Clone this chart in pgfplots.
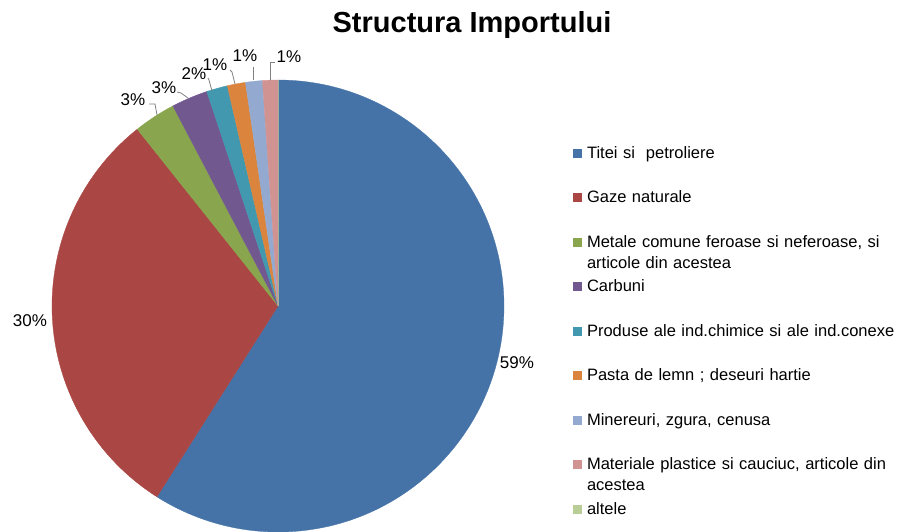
\documentclass[border=0pt]{standalone}
\usepackage{fontspec}
\setmainfont{Liberation Sans}
\usepackage{pgfplots}
\usepackage{pgfplotstable}
\pgfplotsset{compat=1.18}
\definecolor{cTitei}{HTML}{4572A7}
\definecolor{cGaze}{HTML}{AA4643}
\definecolor{cMetale}{HTML}{89A54E}
\definecolor{cCarbuni}{HTML}{71588F}
\definecolor{cProduse}{HTML}{4198AF}
\definecolor{cPasta}{HTML}{DB843D}
\definecolor{cMinereuri}{HTML}{93A9CF}
\definecolor{cMateriale}{HTML}{D19392}
\definecolor{cAltele}{HTML}{B9CD96}
\pgfplotstableread{
value color
59.0 cTitei
30.3 cGaze
3.0 cMetale
2.6 cCarbuni
1.5 cProduse
1.3 cPasta
1.2 cMinereuri
1.1 cMateriale
0.0 cAltele
}\piedata
\begin{document}
\begin{tikzpicture}
\begin{axis}[at={(0,0)}, anchor=south west, x=1pt, y=1pt,
  xmin=0, xmax=900, ymin=0, ymax=531, hide axis, clip=false,
  legend image code/.code={\fill[#1, draw=none] (0pt,0.5pt) rectangle (9pt,9.5pt);},
  legend style={at={(0.6367,0.7250)}, anchor=north west, draw=none, fill=none,
    inner sep=0pt, outer sep=0pt, row sep=0pt, column sep=5pt,
    font=\fontsize{16.5}{21}\selectfont,
    nodes={anchor=base west, text width=310pt, align=left, text height=12pt, text depth=32.5pt, inner sep=0pt}}]
\def\angA{90}
\pgfplotsforeachungrouped \i in {0,...,8}{%
  \pgfplotstablegetelem{\i}{value}\of\piedata \let\sliceval\pgfplotsretval
  \pgfplotstablegetelem{\i}{color}\of\piedata \let\slicecol\pgfplotsretval
  \pgfmathsetmacro\angB{\angA-3.6*\sliceval}%
  \edef\tmp{\noexpand\fill[\slicecol, draw=\slicecol, line width=0.3pt] (axis cs:278,225) -- (axis cs:{278+226*cos(\angA)},{225+226*sin(\angA)}) arc[start angle=\angA, end angle=\angB, radius=226pt] -- cycle;}%
  \tmp
  \let\angA\angB
}
\addlegendimage{fill=cTitei}\addlegendentry{Titei si\ \ petroliere}
\addlegendimage{fill=cGaze}\addlegendentry{Gaze naturale}
\addlegendimage{fill=cMetale}\addlegendentry{Metale comune feroase si neferoase, si\\articole din acestea}
\addlegendimage{fill=cCarbuni}\addlegendentry{Carbuni}
\addlegendimage{fill=cProduse}\addlegendentry{Produse ale ind.chimice si ale ind.conexe}
\addlegendimage{fill=cPasta}\addlegendentry{Pasta de lemn ; deseuri hartie}
\addlegendimage{fill=cMinereuri}\addlegendentry{Minereuri, zgura, cenusa}
\addlegendimage{fill=cMateriale}\addlegendentry{Materiale plastice si cauciuc, articole din\\acestea}
\addlegendimage{fill=cAltele}\addlegendentry{altele}
% title
\node[font=\fontsize{29}{34}\selectfont\bfseries, anchor=base] at (axis cs:472,498) {Structura Importului};
% leader lines
\draw[gray, line width=0.8pt] (axis cs:149,427) -- (axis cs:155,427) -- (axis cs:157,416);
\draw[gray, line width=0.8pt] (axis cs:177,439) -- (axis cs:181,438) -- (axis cs:188,433);
\draw[gray, line width=0.8pt] (axis cs:208,453) -- (axis cs:209,451) -- (axis cs:212,440);
\draw[gray, line width=0.8pt] (axis cs:230,461) -- (axis cs:232,459) -- (axis cs:235,447);
\draw[gray, line width=0.8pt] (axis cs:253,464) -- (axis cs:253,451);
\draw[gray, line width=0.8pt] (axis cs:275,469) -- (axis cs:270,469) -- (axis cs:270,451);
% data labels
\begin{scope}[every node/.style={font=\fontsize{17}{20}\selectfont, inner sep=0pt}]
\node at (axis cs:517,168) {59\%};
\node at (axis cs:30,210) {30\%};
\node at (axis cs:133,431) {3\%};
\node at (axis cs:164,443) {3\%};
\node at (axis cs:194,457) {2\%};
\node at (axis cs:215,466) {1\%};
\node at (axis cs:245,475) {1\%};
\node at (axis cs:289,474) {1\%};
\end{scope}
\end{axis}
\pgfresetboundingbox
\useasboundingbox (0,0) rectangle (900pt,531pt);
\end{tikzpicture}
\end{document}
